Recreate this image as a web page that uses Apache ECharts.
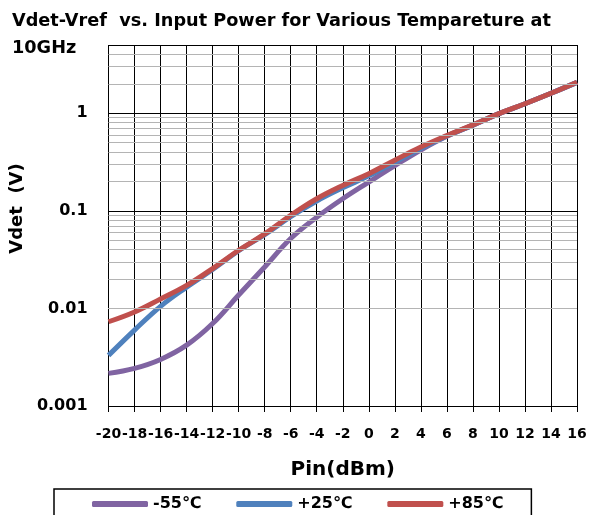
<!DOCTYPE html>
<html>
<head>
<meta charset="utf-8">
<script src="https://cdn.jsdelivr.net/npm/echarts@6/dist/echarts.min.js"></script>
<style>
  html, body { margin: 0; padding: 0; background: #fff; }
</style>
</head>
<body>
<div id="myChart1" style="width: 592px; height: 515px;"></div>
<script>
// 输入功率 (dBm)
var pin = [-20, -18, -16, -14, -12, -10, -8, -6, -4, -2, 0, 2, 4, 6, 8, 10, 12, 14, 16];
// Vdet-Vref (V)
var vMinus55 = [0.00216, 0.00243, 0.0030, 0.0042, 0.0070, 0.0137, 0.0266, 0.052, 0.086, 0.133, 0.197, 0.29, 0.42, 0.58, 0.755, 0.99, 1.25, 1.6, 2.07];
var vPlus25 = [0.0033, 0.006, 0.0105, 0.0165, 0.025, 0.039, 0.057, 0.087, 0.126, 0.172, 0.228, 0.315, 0.435, 0.585, 0.755, 0.99, 1.25, 1.6, 2.07];
var vPlus85 = [0.0073, 0.0092, 0.0125, 0.0172, 0.0256, 0.0394, 0.058, 0.09, 0.133, 0.182, 0.24, 0.33, 0.45, 0.59, 0.76, 0.99, 1.25, 1.6, 2.08];
var seriesNames = ["-55℃", "+25℃", "+85℃"];
// 次网格线 (对数刻度)
var minorGrid = [0.002, 0.003, 0.004, 0.005, 0.006, 0.007, 0.008, 0.009,
  0.02, 0.03, 0.04, 0.05, 0.06, 0.07, 0.08, 0.09,
  0.2, 0.3, 0.4, 0.5, 0.6, 0.7, 0.8, 0.9,
  2, 3, 4];

function pairs(ys) {
  return pin.map(function (x, i) { return [x, ys[i]]; });
}

var myChart = echarts.init(document.getElementById("myChart1"));
var font = "DejaVu Sans, sans-serif";
var option = {
  animation: false,
  title: {
    text: "Vdet-Vref  vs. Input Power for Various Tempareture at\n10GHz",
    left: 7,
    top: 3,
    textStyle: { fontFamily: font, fontSize: 17.7, fontWeight: "bold", color: "#000", lineHeight: 27 },
  },
  grid: { left: 106, right: 15, top: 45, bottom: 109 },
  legend: {
    data: seriesNames,
    left: 54,
    top: 489,
    padding: [7, 28, 7, 38],
    itemGap: 35,
    itemWidth: 56,
    itemHeight: 6,
    icon: "roundRect",
    borderColor: "#000",
    borderWidth: 1.5,
    textStyle: { fontFamily: font, fontSize: 16, fontWeight: "bold", color: "#000" },
  },
  xAxis: {
    type: "value",
    min: -20,
    max: 16,
    interval: 2,
    name: "Pin(dBm)",
    nameLocation: "middle",
    nameGap: 54,
    nameTextStyle: { fontFamily: font, fontSize: 20, fontWeight: "bold", color: "#000" },
    axisLine: { lineStyle: { color: "#000", width: 1 } },
    axisTick: { inside: false, length: 6, lineStyle: { color: "#000" } },
    axisLabel: {
      fontFamily: font, fontSize: 14, fontWeight: "bold", color: "#000", margin: 21,
      showMinLabel: true, showMaxLabel: true, hideOverlap: false,
    },
    splitLine: { show: true, lineStyle: { color: "#000", width: 1 } },
  },
  yAxis: {
    type: "log",
    logBase: 10,
    min: 0.001,
    max: 5,
    name: "Vdet  (V)",
    nameLocation: "middle",
    nameGap: 57,
    nameTextStyle: { fontFamily: font, fontSize: 18, fontWeight: "bold", color: "#000", padding: [0, 0, 0, 34] },
    axisLine: { lineStyle: { color: "#000", width: 1 } },
    axisTick: { inside: false, length: 6, lineStyle: { color: "#000" } },
    axisLabel: {
      fontFamily: font, fontSize: 16, fontWeight: "bold", color: "#000", margin: 21,
      showMinLabel: true,
      formatter: function (v) {
        var l = Math.log10(v);
        if (Math.abs(l - Math.round(l)) > 1e-6) return "";
        return String(+v.toPrecision(3));
      },
    },
    splitLine: { show: true, lineStyle: { color: "#000", width: 1 } },
  },
  series: [
    {
      // 次网格线
      type: "line",
      data: [],
      z: 1,
      silent: true,
      markLine: {
        silent: true,
        symbol: ["none", "none"],
        label: { show: false },
        lineStyle: { color: "#b4b4b4", type: "solid", width: 1 },
        data: minorGrid.map(function (v) { return { yAxis: v }; }),
      },
    },
    {
      name: seriesNames[0],
      type: "line",
      data: pairs(vMinus55),
      smooth: 0.4,
      showSymbol: false,
      color: "#8064A2",
      lineStyle: { width: 5 },
    },
    {
      name: seriesNames[1],
      type: "line",
      data: pairs(vPlus25),
      smooth: 0.4,
      showSymbol: false,
      color: "#4F81BD",
      lineStyle: { width: 5 },
    },
    {
      name: seriesNames[2],
      type: "line",
      data: pairs(vPlus85),
      smooth: 0.4,
      showSymbol: false,
      color: "#C0504D",
      lineStyle: { width: 5 },
    },
  ],
};
myChart.setOption(option);
</script>
</body>
</html>
